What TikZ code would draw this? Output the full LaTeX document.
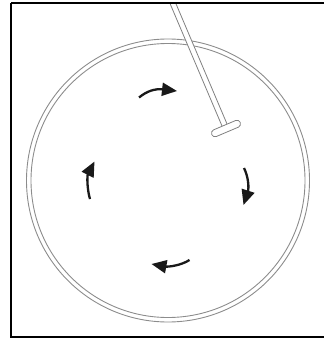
\documentclass[tikz,border=0pt]{standalone}
\usetikzlibrary{arrows.meta}
\begin{document}
\begin{tikzpicture}[x=1pt,y=-1pt,
  ring/.style={draw=black!45,line width=0.9pt},
  rodline/.style={draw=black!50,fill=white,line width=0.8pt},
  flow/.style={line width=2.3pt,black!90,-{Triangle[length=15pt,width=13pt]}}]
\useasboundingbox (0,0) rectangle (323,339);
\begin{scope}
\clip (11,3) rectangle (330,337);
\coordinate (c) at (168,180.5);
\draw[ring] (c) circle[radius=141.5];
\draw[ring] (c) circle[radius=137];
\begin{scope}[shift={(226,128.5)},rotate=23]
\draw[rodline] (-2.7,-3) rectangle (2.7,-160);
\draw[rodline,rounded corners=3.5pt] (-15.5,-3.6) rectangle (15.5,3.6);
\end{scope}
\coordinate (t1) at (139,97.5);
\coordinate (h1) at (177,91);
\coordinate (t2) at (244,168);
\coordinate (h2) at (243.5,205);
\coordinate (t3) at (189.5,260);
\coordinate (h3) at (151.5,264);
\coordinate (t4) at (90,199);
\coordinate (h4) at (94.5,161.5);
\draw[flow] (t1) .. controls (147,91) and (155,88.5) .. (h1);
\draw[flow] (t2) .. controls (248.5,177) and (249,188) .. (h2);
\draw[flow] (t3) .. controls (181,265.5) and (168,267) .. (h3);
\draw[flow] (t4) .. controls (87,189) and (87,176) .. (h4);
\end{scope}
\draw[line width=2pt] (11,3) -- (330,3) (11,3) -- (11,337) -- (330,337);
\end{tikzpicture}
\end{document}
